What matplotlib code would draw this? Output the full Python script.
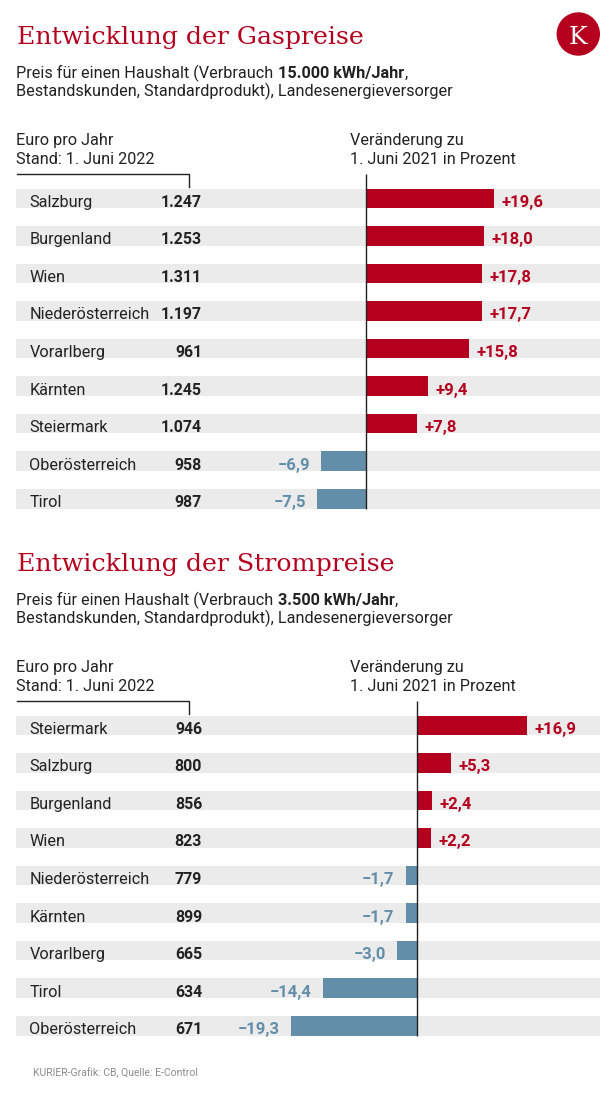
import matplotlib
matplotlib.use("Agg")
import matplotlib.pyplot as plt
from matplotlib.patches import Circle
from matplotlib.transforms import offset_copy

W, H = 616, 1093          # output size in px
RED = "#B4001E"
BLUE = "#628EA9"
BAND = "#EBEBEB"
INK = "#222222"
SANS = "Roboto"
SERIF = "DejaVu Serif"
TXT = 11.7                # body text size (pt)

# --- data -----------------------------------------------------------------
gas_regions = ["Salzburg", "Burgenland", "Wien", "Niederösterreich", "Vorarlberg",
               "Kärnten", "Steiermark", "Oberösterreich", "Tirol"]
gas_price = [1247, 1253, 1311, 1197, 961, 1245, 1074, 958, 987]
gas_change = [19.6, 18.0, 17.8, 17.7, 15.8, 9.4, 7.8, -6.9, -7.5]

strom_regions = ["Steiermark", "Salzburg", "Burgenland", "Wien", "Niederösterreich",
                 "Kärnten", "Vorarlberg", "Tirol", "Oberösterreich"]
strom_price = [946, 800, 856, 823, 779, 899, 665, 634, 671]
strom_change = [16.9, 5.3, 2.4, 2.2, -1.7, -1.7, -3.0, -14.4, -19.3]

# --- layout (px) ----------------------------------------------------------
PX_PER_PCT = 6.52
ROW = 37.56
BAND_L, BAND_R = 16, 600

fig = plt.figure(figsize=(W / 100, H / 100), dpi=100)
bg = fig.add_axes([0, 0, 1, 1])
bg.set_xlim(0, W)
bg.set_ylim(H, 0)
bg.axis("off")
renderer = fig.canvas.get_renderer()


def fmt_price(v):
    return f"{v:,}".replace(",", ".")


def fmt_change(v):
    s = f"{abs(v):.1f}".replace(".", ",")
    return ("+" if v > 0 else "\u2212") + s


def sans(x, y, txt, size=TXT, weight="normal", color=INK, **kw):
    return bg.text(x, y, txt, fontsize=size, fontweight=weight, family=SANS,
                   color=color, va="baseline", **kw)


def subtitle_line(x, y, bold):
    t = sans(x, y, "Preis für einen Haushalt (Verbrauch")
    x += t.get_window_extent(renderer).width + 4.0
    t = sans(x, y, bold, weight="bold")
    x += t.get_window_extent(renderer).width + 0.6
    sans(x, y, ",")


def section(dy, title, bold, regions, prices, changes, zero_px):
    bg.text(17, 44 + dy, title, family=SERIF, fontsize=18.2, color=RED, va="baseline")
    subtitle_line(16.5, 78 + dy, bold)
    sans(16.5, 96.3 + dy, "Bestandskunden, Standardprodukt), Landesenergieversorger")

    sans(16.5, 145 + dy, "Euro pro Jahr")
    sans(16.5, 164 + dy, "Stand: 1. Juni 2022")
    sans(349.5, 145 + dy, "Veränderung zu")
    sans(349.5, 164 + dy, "1. Juni 2021 in Prozent")
    bg.plot([16.7, 188.7, 188.7], [174 + dy, 174 + dy, 186.7 + dy], color=INK, lw=1)

    c0 = 198.3 + dy
    top = c0 - ROW / 2
    ax = fig.add_axes([BAND_L / W, 1 - (top + 9 * ROW) / H,
                       (BAND_R - BAND_L) / W, 9 * ROW / H])
    xl = (BAND_L - zero_px) / PX_PER_PCT
    xr = (BAND_R - zero_px) / PX_PER_PCT
    ax.set_xlim(xl, xr)
    ax.set_ylim(len(regions) - 0.5, -0.5)
    ax.axis("off")

    idx = range(len(regions))
    ax.barh(idx, [xr - xl] * len(regions), left=xl, height=0.52, color=BAND, lw=0)
    ax.barh(idx, changes, height=0.52, lw=0,
            color=[RED if v > 0 else BLUE for v in changes])
    z_top = -0.5 - (top - (174 + dy)) / ROW
    ax.vlines(0, z_top, len(regions) - 1 + 0.26, color=INK, lw=1, clip_on=False)

    tr = offset_copy(ax.get_yaxis_transform(), fig=fig, x=0, y=-8.5, units="dots")
    for i, (name, p, v) in enumerate(zip(regions, prices, changes)):
        ax.text(0.0228, i, name, transform=tr, fontsize=TXT, family=SANS,
                color=INK, va="baseline")
        ax.text(0.3185, i, fmt_price(p), transform=tr, fontsize=11.4, family=SANS,
                fontweight="bold", color=INK, va="baseline", ha="right")
        pos = v > 0
        ax.annotate(fmt_change(v), (v, i),
                    xytext=(5.4 if pos else -7.9, -8.5 * 0.72),
                    textcoords="offset points", fontsize=12, family=SANS,
                    fontweight="bold", color=RED if pos else BLUE,
                    ha="left" if pos else "right", va="baseline")


section(0, "Entwicklung der Gaspreise", "15.000 kWh/Jahr",
        gas_regions, gas_price, gas_change, 366.3)
section(527, "Entwicklung der Strompreise", "3.500 kWh/Jahr",
        strom_regions, strom_price, strom_change, 416.7)

# logo
bg.add_patch(Circle((578.3, 34), 21.7, color=RED, lw=0))
bg.text(578.3, 44.3, "K", family=SERIF, fontsize=18, color="white",
        ha="center", va="baseline")

sans(33, 1076, "KURIER-Grafik: CB, Quelle: E-Control", size=7.5, color="#8C8C8C")

fig.savefig("out.png", dpi=100)
